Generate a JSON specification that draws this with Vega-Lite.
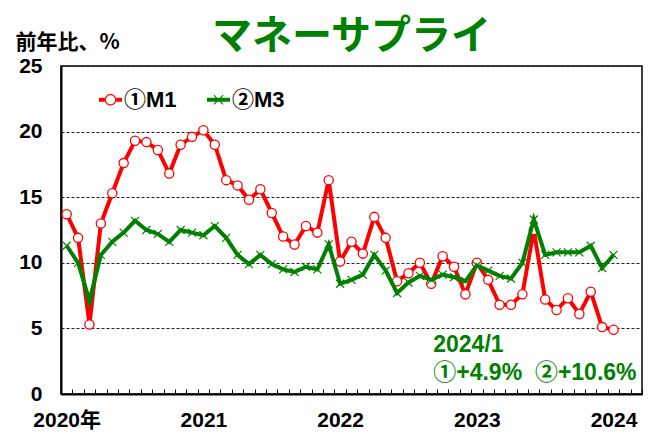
{
  "$schema": "https://vega.github.io/schema/vega-lite/v6.json",
  "width": 581,
  "height": 328,
  "autosize": {"type": "none"},
  "padding": {"left": 61, "top": 66, "right": 10, "bottom": 44},
  "background": "white",
  "title": {"text": "マネーサプライ", "font": "Noto Sans CJK JP", "fontSize": 40, "fontWeight": "bold", "color": "#008000", "anchor": "middle", "offset": -26, "dx": 0},
  "config": {
    "view": {"stroke": "black", "strokeWidth": 1.5},
    "font": "Liberation Sans",
    "axisX": {"grid": false, "tickBand": "extent", "ticks": true, "tickSize": -5, "tickColor": "black", "tickWidth": 1, "domainColor": "black", "domainWidth": 2, "labelFont": "Liberation Sans, 'Noto Sans CJK JP'", "labelFontSize": 21, "labelFontWeight": "bold", "labelColor": "black", "labelPadding": 20, "labelAngle": 0, "labelOverlap": false, "labelBaseline": "top"},
    "axisY": {"grid": true, "gridColor": "#222222", "gridDash": [3, 2], "gridWidth": 1, "ticks": false, "domainColor": "black", "domainWidth": 2, "labelFont": "Liberation Sans", "labelFontSize": 21, "labelFontWeight": "bold", "labelColor": "black", "labelPadding": 19}
  },
  "datasets": {
    "money": [
      {"month": "2020-01", "M1": 13.7, "M3": 11.3},
      {"month": "2020-02", "M1": 11.9, "M3": 10.0},
      {"month": "2020-03", "M1": 5.3, "M3": 7.1},
      {"month": "2020-04", "M1": 13.0, "M3": 10.6},
      {"month": "2020-05", "M1": 15.3, "M3": 11.6},
      {"month": "2020-06", "M1": 17.6, "M3": 12.3},
      {"month": "2020-07", "M1": 19.3, "M3": 13.2},
      {"month": "2020-08", "M1": 19.2, "M3": 12.5},
      {"month": "2020-09", "M1": 18.6, "M3": 12.2},
      {"month": "2020-10", "M1": 16.8, "M3": 11.6},
      {"month": "2020-11", "M1": 19.0, "M3": 12.5},
      {"month": "2020-12", "M1": 19.6, "M3": 12.3},
      {"month": "2021-01", "M1": 20.1, "M3": 12.1},
      {"month": "2021-02", "M1": 19.0, "M3": 12.8},
      {"month": "2021-03", "M1": 16.3, "M3": 11.9},
      {"month": "2021-04", "M1": 15.9, "M3": 10.6},
      {"month": "2021-05", "M1": 14.8, "M3": 9.9},
      {"month": "2021-06", "M1": 15.6, "M3": 10.6},
      {"month": "2021-07", "M1": 13.8, "M3": 9.9},
      {"month": "2021-08", "M1": 12.0, "M3": 9.5},
      {"month": "2021-09", "M1": 11.4, "M3": 9.3},
      {"month": "2021-10", "M1": 12.8, "M3": 9.7},
      {"month": "2021-11", "M1": 12.3, "M3": 9.5},
      {"month": "2021-12", "M1": 16.3, "M3": 11.4},
      {"month": "2022-01", "M1": 10.1, "M3": 8.4},
      {"month": "2022-02", "M1": 11.6, "M3": 8.7},
      {"month": "2022-03", "M1": 10.7, "M3": 9.1},
      {"month": "2022-04", "M1": 13.5, "M3": 10.6},
      {"month": "2022-05", "M1": 11.9, "M3": 9.4},
      {"month": "2022-06", "M1": 8.6, "M3": 7.7},
      {"month": "2022-07", "M1": 9.2, "M3": 8.5},
      {"month": "2022-08", "M1": 10.0, "M3": 9.0},
      {"month": "2022-09", "M1": 8.4, "M3": 8.7},
      {"month": "2022-10", "M1": 10.5, "M3": 9.1},
      {"month": "2022-11", "M1": 9.7, "M3": 8.9},
      {"month": "2022-12", "M1": 7.6, "M3": 8.6},
      {"month": "2023-01", "M1": 10.0, "M3": 9.8},
      {"month": "2023-02", "M1": 8.7, "M3": 9.4},
      {"month": "2023-03", "M1": 6.8, "M3": 9.0},
      {"month": "2023-04", "M1": 6.8, "M3": 8.8},
      {"month": "2023-05", "M1": 7.6, "M3": 10.0},
      {"month": "2023-06", "M1": 12.5, "M3": 13.3},
      {"month": "2023-07", "M1": 7.2, "M3": 10.6},
      {"month": "2023-08", "M1": 6.4, "M3": 10.8},
      {"month": "2023-09", "M1": 7.3, "M3": 10.8},
      {"month": "2023-10", "M1": 6.1, "M3": 10.8},
      {"month": "2023-11", "M1": 7.8, "M3": 11.3},
      {"month": "2023-12", "M1": 5.1, "M3": 9.6},
      {"month": "2024-01", "M1": 4.9, "M3": 10.6}
    ],
    "notes": [
      {"month": "2022-09", "value": 3.7, "label": "2024/1"},
      {"month": "2022-09", "value": 1.6, "label": "①+4.9%\u00a0\u00a0②+10.6%"}
    ]
  },
  "encoding": {
    "x": {
      "field": "month", "type": "ordinal", "bandPosition": 0.5,
      "scale": {"type": "band", "paddingInner": 0, "paddingOuter": 0, "domain": ["2020-01","2020-02","2020-03","2020-04","2020-05","2020-06","2020-07","2020-08","2020-09","2020-10","2020-11","2020-12","2021-01","2021-02","2021-03","2021-04","2021-05","2021-06","2021-07","2021-08","2021-09","2021-10","2021-11","2021-12","2022-01","2022-02","2022-03","2022-04","2022-05","2022-06","2022-07","2022-08","2022-09","2022-10","2022-11","2022-12","2023-01","2023-02","2023-03","2023-04","2023-05","2023-06","2023-07","2023-08","2023-09","2023-10","2023-11","2023-12","2024-01","2024-02","2024-03"]},
      "axis": {"title": null, "labelExpr": "datum.value === '2020-01' ? '2020年' : (substring(datum.value, 5, 7) === '01' ? substring(datum.value, 0, 4) : '')"}
    },
    "y": {
      "field": "value", "type": "quantitative",
      "scale": {"domain": [0, 25], "nice": false, "zero": true},
      "axis": {"values": [0, 5, 10, 15, 20, 25], "title": "前年比、%", "titleAngle": 0, "titleAlign": "left", "titleBaseline": "middle", "titleX": -46, "titleY": -24, "titleFont": "Noto Sans CJK JP", "titleFontSize": 21, "titleFontWeight": "bold", "titleColor": "black"}
    }
  },
  "layer": [
    {
      "data": {"name": "money"},
      "transform": [{"fold": ["M1", "M3"], "as": ["series", "value"]}, {"filter": "datum.series === 'M1'"}],
      "mark": {"type": "line", "strokeWidth": 4},
      "encoding": {
        "color": {
          "field": "series", "type": "nominal",
          "scale": {"domain": ["M1", "M3"], "range": ["#ff0000", "#008000"]},
          "legend": {
            "title": null, "orient": "none", "legendX": 38, "legendY": 22, "direction": "horizontal",
            "labelExpr": "datum.label === 'M1' ? '①M1' : '②M3'",
            "labelFont": "Liberation Sans, 'Noto Sans CJK JP'", "labelFontSize": 22, "labelFontWeight": "bold", "labelColor": "black",
            "labelOffset": 2, "columnPadding": 30, "symbolSize": 529, "padding": 0,
            "encode": {"symbols": {"update": {
              "shape": {"signal": "datum.value === 'M1' ? 'M-1,-0.17H-0.5V0.17H-1Z M0.5,-0.17H1V0.17H0.5Z M-0.5,0A0.5,0.5,0,1,1,0.5,0A0.5,0.5,0,1,1,-0.5,0Z M-0.4,0A0.4,0.4,0,1,0,0.4,0A0.4,0.4,0,1,0,-0.4,0Z' : 'M-1,-0.17H1V0.17H-1Z M-0.365,-0.435L0.435,0.365L0.365,0.435L-0.435,-0.365Z M-0.435,0.365L0.365,-0.435L0.435,-0.365L-0.365,0.435Z'"},
              "fill": {"signal": "datum.value === 'M1' ? '#ff0000' : '#008000'"},
              "stroke": {"value": "transparent"},
              "strokeWidth": {"value": 0},
              "size": {"value": 529},
              "opacity": {"value": 1}
            }}}
          }
        }
      }
    },
    {
      "data": {"name": "money"},
      "transform": [{"fold": ["M1", "M3"], "as": ["series", "value"]}, {"filter": "datum.series === 'M1'"}],
      "mark": {"type": "point", "shape": "circle", "filled": true, "fill": "white", "stroke": "#ff0000", "strokeWidth": 1.3, "size": 85, "opacity": 1}
    },
    {
      "data": {"name": "money"},
      "transform": [{"fold": ["M1", "M3"], "as": ["series", "value"]}, {"filter": "datum.series === 'M3'"}],
      "mark": {"type": "line", "strokeWidth": 4},
      "encoding": {"color": {"field": "series", "type": "nominal"}}
    },
    {
      "data": {"name": "money"},
      "transform": [{"fold": ["M1", "M3"], "as": ["series", "value"]}, {"filter": "datum.series === 'M3'"}],
      "mark": {"type": "point", "shape": "M-1,-1L1,1M-1,1L1,-1", "filled": false, "stroke": "#008000", "strokeWidth": 1.2, "size": 64, "opacity": 1}
    },
    {
      "data": {"name": "notes"},
      "mark": {"type": "text", "align": "left", "baseline": "middle", "font": "Liberation Sans, 'Noto Sans CJK JP'", "fontSize": 23, "fontWeight": "bold", "color": "#008000", "dx": 2},
      "encoding": {"text": {"field": "label"}}
    }
  ]
}
